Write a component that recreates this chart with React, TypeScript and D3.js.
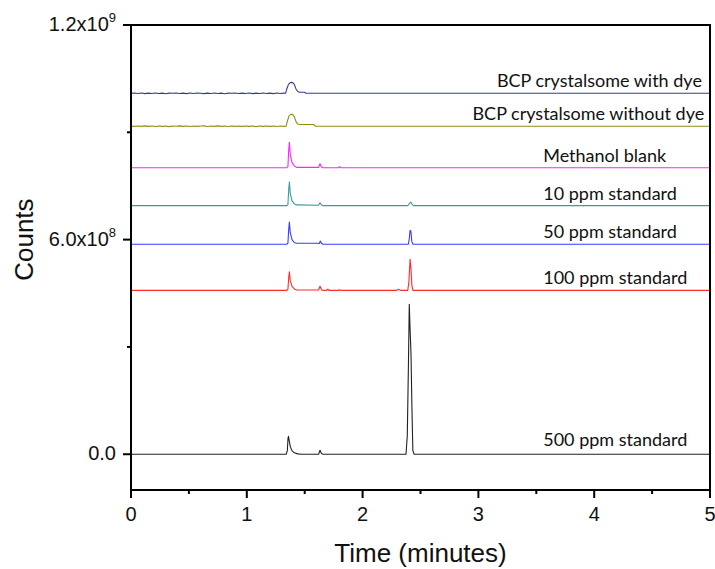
import React from "react";
import * as d3 from "d3";

type Pt = [number, number];

const labels = [
  "BCP crystalsome with dye",
  "BCP crystalsome without dye",
  "Methanol blank",
  "10 ppm standard",
  "50 ppm standard",
  "100 ppm standard",
  "500 ppm standard",
];
const offsets = [1.009e9, 9.17e8, 8.01e8, 6.95e8, 5.87e8, 4.58e8, 0];
const colors = ["#3a3a96", "#8f8f14", "#ff22ff", "#3a9a9a", "#3a3aff", "#ff2a2a", "#222222"];
// label anchors: start time, text anchor
const labelStart = [4.93, 4.95, 3.56, 3.56, 3.56, 3.56, 3.56];
const labelAnchor = ["end", "end", "start", "start", "start", "start", "start"];

const withDye: Pt[] = [
  [0, 0], [0.03, 1e6], [0.06, -0.5e6], [0.09, 0.8e6], [0.12, -0.8e6], [0.15, 0.5e6], [0.18, -0.3e6],
  [0.21, 1e6], [0.24, -0.5e6], [0.27, 0.5e6], [0.3, -1e6], [0.33, 0.5e6], [0.36, 0], [0.39, 1e6],
  [0.42, -0.5e6], [0.45, 0.5e6], [0.48, -0.8e6], [0.51, 0.8e6], [0.54, -0.5e6], [0.57, 1e6], [0.6, 0],
  [0.63, -0.8e6], [0.66, 0.5e6], [0.69, -0.5e6], [0.72, 1e6], [0.75, -0.5e6], [0.78, 0.5e6], [0.81, -1e6],
  [0.84, 0.5e6], [0.87, 0], [0.9, 0.8e6], [0.93, -0.5e6], [0.96, 0.5e6], [0.99, -0.5e6], [1.02, 0.8e6],
  [1.05, -0.8e6], [1.08, 0.5e6], [1.11, -0.5e6], [1.14, 1e6], [1.17, -0.5e6], [1.2, 0.5e6],
  [1.23, -0.8e6], [1.26, 0.8e6], [1.29, -0.5e6], [1.32, 0.5e6], [1.335, 0],
  [1.345, 1.2e7], [1.36, 2.5e7], [1.375, 3e7], [1.395, 3.05e7], [1.41, 2.5e7], [1.425, 1.2e7],
  [1.44, 5e6], [1.455, 3e6], [1.5, 3e6], [1.51, 0], [5, 0],
];
const withoutDye: Pt[] = [
  [0, 0], [0.03, -0.5e6], [0.06, 0.8e6], [0.09, -0.5e6], [0.12, 1e6], [0.15, -0.5e6], [0.18, 0.5e6],
  [0.21, -0.8e6], [0.24, 0.8e6], [0.27, -0.5e6], [0.3, 0.5e6], [0.33, -1e6], [0.36, 0.5e6], [0.39, 0],
  [0.42, 1e6], [0.45, -0.5e6], [0.48, 0.5e6], [0.51, -0.8e6], [0.54, 0.8e6], [0.57, -0.5e6], [0.6, 0.5e6],
  [0.63, 1e6], [0.66, -0.8e6], [0.69, 0.5e6], [0.72, -0.5e6], [0.75, 1e6], [0.78, -0.5e6], [0.81, 0.5e6],
  [0.84, -0.8e6], [0.87, 0.8e6], [0.9, -0.5e6], [0.93, 0.5e6], [0.96, -0.5e6], [0.99, 0.8e6],
  [1.02, -0.5e6], [1.05, 0.5e6], [1.08, -1e6], [1.11, 0.5e6], [1.14, -0.5e6], [1.17, 0.8e6],
  [1.2, -0.5e6], [1.23, 0.5e6], [1.26, -0.8e6], [1.29, 0.5e6], [1.32, -0.5e6], [1.34, 0],
  [1.35, 1.4e7], [1.365, 2.9e7], [1.38, 3.3e7], [1.395, 3.3e7], [1.41, 2.7e7], [1.425, 1.3e7],
  [1.44, 6e6], [1.46, 5e6], [1.58, 5e6], [1.59, 0], [5, 0],
];
const methanol: Pt[] = [
  [0, 0], [1.345, 0], [1.355, 3e6], [1.362, 5e7], [1.368, 7.1e7], [1.375, 3.8e7], [1.39, 1.5e7],
  [1.41, 5e6], [1.43, 1e6], [1.62, 1e6], [1.632, 1.1e7], [1.645, 2e6], [1.66, 0], [1.79, 0],
  [1.8, 3e6], [1.81, 0], [5, 0],
];
const ppm10: Pt[] = [
  [0, 0], [1.345, 0], [1.355, 3e6], [1.362, 4.5e7], [1.368, 6.6e7], [1.375, 3.5e7], [1.39, 1.4e7],
  [1.41, 5e6], [1.43, 2e6], [1.62, 1e6], [1.632, 8e6], [1.645, 2e6], [1.66, 0], [2.39, 0],
  [2.405, 6e6], [2.415, 1e7], [2.425, 5e6], [2.44, 0], [5, 0],
];
const ppm50: Pt[] = [
  [0, 0], [1.345, 0], [1.355, 3e6], [1.362, 4.2e7], [1.368, 6.2e7], [1.375, 3.3e7], [1.39, 1.3e7],
  [1.41, 5e6], [1.43, 3e6], [1.6, 3e6], [1.625, 2e6], [1.635, 9e6], [1.645, 2e6], [1.66, 0],
  [2.395, 0], [2.403, 1.5e7], [2.41, 3.9e7], [2.417, 3.6e7], [2.425, 8e6], [2.435, 0], [5, 0],
];
const ppm100: Pt[] = [
  [0, 0], [1.345, 0], [1.355, 3e6], [1.362, 3.6e7], [1.368, 5.2e7], [1.375, 2.8e7], [1.39, 1.2e7],
  [1.41, 4e6], [1.43, 1e6], [1.62, 1e6], [1.632, 1.2e7], [1.645, 2e6], [1.66, 0], [1.69, 0],
  [1.7, 4e6], [1.71, 0], [1.79, 0], [1.8, 2e6], [1.81, 0], [2.29, 0], [2.31, 3e6], [2.33, 0],
  [2.39, 0], [2.4, 2.5e7], [2.41, 8.7e7], [2.418, 6e7], [2.425, 1.5e7], [2.435, 0], [5, 0],
];
const ppm500: Pt[] = [
  [0, 0], [1.34, 0], [1.35, 1e7], [1.356, 4.5e7], [1.36, 5e7], [1.365, 4e7], [1.375, 2.2e7],
  [1.39, 1e7], [1.41, 4e6], [1.44, 1e6], [1.47, 0], [1.62, 0], [1.632, 1.1e7], [1.645, 2e6],
  [1.66, 0], [2.375, 0], [2.386, 5.3e7], [2.396, 2.55e8], [2.403, 4.19e8], [2.41, 3.5e8],
  [2.418, 2.8e8], [2.426, 1.3e8], [2.434, 1e7], [2.445, 0], [5, 0],
];
const seriesData = [withDye, withoutDye, methanol, ppm10, ppm50, ppm100, ppm500];

const xMajor = [0, 1, 2, 3, 4, 5];
const xMinor = [0.5, 1.5, 2.5, 3.5, 4.5];
const yMajor = [0, 6e8, 1.2e9];
const yMajorMant = ["0.0", "6.0x10", "1.2x10"];
const yMajorExp = ["", "8", "9"];
const yMinor = [3e8, 9e8];

const W = 715, H = 569;
const ML = 131, MR = 710, MT = 25, MB = 490;

export default function App() {
  const x = d3.scaleLinear().domain([0, 5]).range([ML, MR]);
  const y = d3.scaleLinear().domain([-1e8, 1.2e9]).range([MB, MT]);
  const axisFont = "'Liberation Sans', Arial, sans-serif";
  const labelFont = "Lato, 'Open Sans', sans-serif";

  return (
    <svg width={W} height={H} style={{ position: "absolute", left: 0, top: 0, background: "#fff" }}>
      <rect x={0} y={0} width={W} height={H} fill="#fff" />
      {seriesData.map((pts, i) => {
        const line = d3
          .line<Pt>()
          .x((d) => x(d[0]))
          .y((d) => y(d[1] + offsets[i]));
        return (
          <path key={i} d={line(pts) || ""} fill="none" stroke={colors[i]} strokeWidth={1.1} strokeLinejoin="round" />
        );
      })}
      {labels.map((t, i) => (
        <text
          key={t}
          x={x(labelStart[i])}
          y={y(offsets[i]) - (i === 6 ? 8 : 6)}
          textAnchor={labelAnchor[i] as any}
          fontFamily={labelFont}
          fontSize={18}
          fill="#111"
        >
          {t}
        </text>
      ))}
      {/* frame */}
      <rect x={ML} y={MT} width={MR - ML} height={MB - MT} fill="none" stroke="#000" strokeWidth={2} />
      {/* x ticks */}
      {xMajor.map((v) => (
        <g key={"xm" + v}>
          <line x1={x(v)} x2={x(v)} y1={MB} y2={MB + 8} stroke="#000" strokeWidth={2} />
          <text x={x(v)} y={MB + 31} textAnchor="middle" fontFamily={axisFont} fontSize={20} fill="#111">
            {v}
          </text>
        </g>
      ))}
      {xMinor.map((v) => (
        <line key={"xn" + v} x1={x(v)} x2={x(v)} y1={MB} y2={MB + 4} stroke="#000" strokeWidth={2} />
      ))}
      {/* y ticks */}
      {yMajor.map((v, i) => (
        <g key={"ym" + v}>
          <line x1={ML - 8} x2={ML} y1={y(v)} y2={y(v)} stroke="#000" strokeWidth={2} />
          <text x={116} y={y(v) + 6} textAnchor="end" fontFamily={axisFont} fontSize={20} fill="#111">
            {yMajorMant[i]}
            {yMajorExp[i] ? (
              <tspan dy={-9} fontSize={13}>
                {yMajorExp[i]}
              </tspan>
            ) : null}
          </text>
        </g>
      ))}
      {yMinor.map((v) => (
        <line key={"yn" + v} x1={ML - 4} x2={ML} y1={y(v)} y2={y(v)} stroke="#000" strokeWidth={2} />
      ))}
      <text x={(ML + MR) / 2} y={562} textAnchor="middle" fontFamily={axisFont} fontSize={26} fill="#111">
        Time (minutes)
      </text>
      <text
        transform={`translate(33, ${y(6e8)}) rotate(-90)`}
        textAnchor="middle"
        fontFamily={axisFont}
        fontSize={26}
        fill="#111"
      >
        Counts
      </text>
    </svg>
  );
}
